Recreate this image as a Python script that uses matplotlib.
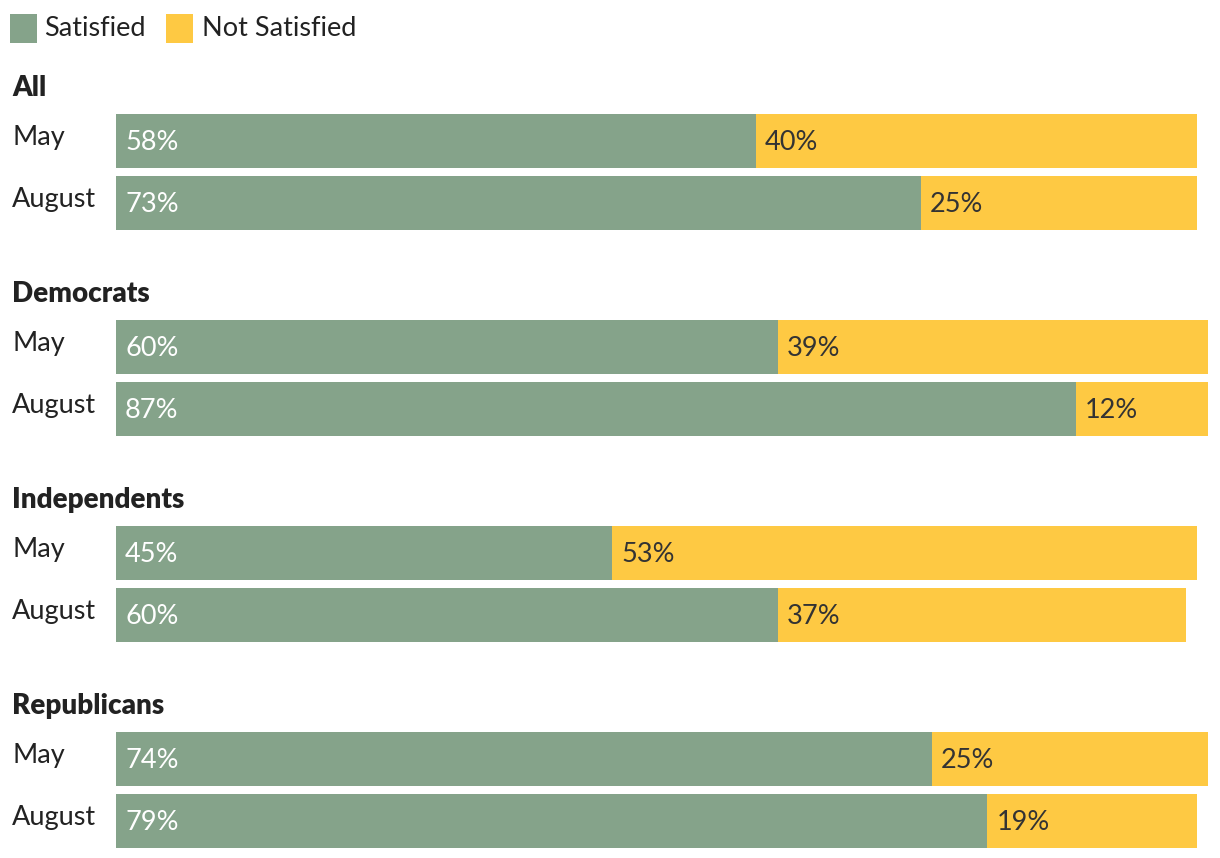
import numpy as np
import matplotlib.pyplot as plt

# data
groups = ["All", "Democrats", "Independents", "Republicans"]
periods = ["May", "August"]
satisfied = [[58, 73], [60, 87], [45, 60], [74, 79]]
not_satisfied = [[40, 25], [39, 12], [53, 37], [25, 19]]

GREEN = "#85a38a"
YELLOW = "#fec943"
TEXT = "#222222"

plt.rcParams['font.family'] = ['Lato', 'DejaVu Sans']

W, H = 1220, 858
fig = plt.figure(figsize=(W / 100, H / 100), dpi=100)
ax = fig.add_axes([0, 0, 1, 1])

# pixel layout: bar origin at 116px, 100% spans 1103px
x0 = 116
s = 1103 / 100.0
ax.set_xlim(-x0 / s, (W - x0) / s)
ax.set_ylim(H, 0)
ax.axis('off')

def px(p):
    return (p - x0) / s

group_step = 206
bar_h = 54
for g, name in enumerate(groups):
    top = 87 + group_step * g
    ax.text(px(12), top + 1, name, fontsize=20, fontweight='heavy', color=TEXT,
            va='center', ha='left')
    for i, per in enumerate(periods):
        yc = top + 54 + 62 * i
        sat = satisfied[g][i]
        ns = not_satisfied[g][i]
        ax.barh(yc, sat, height=bar_h, left=0, color=GREEN, linewidth=0)
        ax.barh(yc, ns, height=bar_h, left=sat, color=YELLOW, linewidth=0)
        ax.text(px(12), yc - 3, per, fontsize=19.5, color=TEXT, va='center', ha='left')
        ax.text(px(125), yc + 2, f"{sat}%", fontsize=19.5, color='white', va='center', ha='left')
        ax.text(sat + 9 / s, yc + 2, f"{ns}%", fontsize=19.5, color="#333333",
                va='center', ha='left')

# legend
ax.add_patch(plt.Rectangle((px(10), 14), 27 / s, 29, color=GREEN, linewidth=0))
ax.text(px(44), 28, "Satisfied", fontsize=19.5, color=TEXT, va='center', ha='left')
ax.add_patch(plt.Rectangle((px(166), 14), 27 / s, 29, color=YELLOW, linewidth=0))
ax.text(px(202), 28, "Not Satisfied", fontsize=19.5, color=TEXT, va='center', ha='left')

fig.savefig("out.png", dpi=100)
